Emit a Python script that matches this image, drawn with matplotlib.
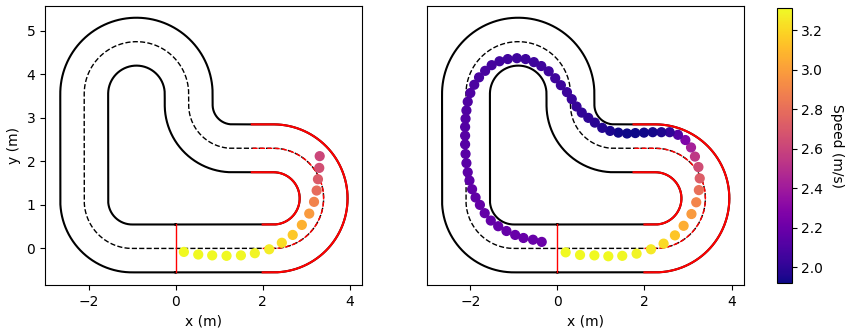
import numpy as np
import matplotlib
matplotlib.use("Agg")
import matplotlib.pyplot as plt
from matplotlib.colors import Normalize

# track centreline, built from straights and arcs (start at origin heading east)
# ("s", length) or ("a", radius, degrees, +1 left / -1 right)
TRACK = [("s", 2.25), ("a", 1.15, 180, 1), ("s", 0.95), ("a", 1.0, 90, -1),
         ("s", 0.25), ("a", 1.2, 180, 1), ("s", 2.45), ("a", 1.1, 90, 1), ("s", 1.0)]
HALF_WIDTH = 0.55
RED_FROM, RED_TO = 2.0, 2.25 + np.pi * 1.15 + 0.5   # arc length of highlighted section

# left panel: short run
left_x = [0.19, 0.52, 0.84, 1.17, 1.50, 1.82, 2.15, 2.44, 2.69, 2.90, 3.07, 3.18, 3.24, 3.27, 3.30, 3.31]
left_y = [-0.08, -0.14, -0.16, -0.17, -0.16, -0.11, -0.02, 0.13, 0.31, 0.54, 0.80, 1.07, 1.33, 1.59, 1.85, 2.12]
left_v = [3.31, 3.31, 3.31, 3.31, 3.30, 3.29, 3.27, 3.22, 3.15, 3.07, 2.98, 2.89, 2.79, 2.71, 2.65, 2.61]

# right panel: nearly a full lap
right_x = [0.19, 0.52, 0.85, 1.17, 1.49, 1.82, 2.15, 2.44, 2.70, 2.90, 3.08, 3.19, 3.25, 3.27, 3.24,
           3.16, 3.07, 2.94, 2.77, 2.58, 2.39, 2.19, 1.99, 1.79, 1.60, 1.40, 1.21, 1.03, 0.86, 0.71,
           0.56, 0.44, 0.33, 0.22, 0.08, -0.05, -0.20, -0.37, -0.54, -0.73, -0.93, -1.14, -1.33, -1.51,
           -1.66, -1.80, -1.91, -2.00, -2.06, -2.09, -2.11, -2.12, -2.12, -2.12, -2.11, -2.09, -2.06,
           -2.02, -1.96, -1.88, -1.78, -1.67, -1.53, -1.36, -1.17, -0.97, -0.78, -0.56, -0.36]
right_y = [-0.09, -0.15, -0.16, -0.18, -0.17, -0.12, -0.02, 0.11, 0.30, 0.52, 0.79, 1.06, 1.34, 1.61, 1.87,
           2.11, 2.32, 2.49, 2.61, 2.67, 2.67, 2.67, 2.66, 2.65, 2.64, 2.66, 2.70, 2.77, 2.89, 3.00,
           3.12, 3.26, 3.43, 3.59, 3.75, 3.91, 4.07, 4.19, 4.28, 4.35, 4.37, 4.35, 4.30, 4.21,
           4.08, 3.93, 3.76, 3.57, 3.37, 3.17, 2.98, 2.79, 2.59, 2.39, 2.17, 1.96, 1.75,
           1.56, 1.36, 1.17, 1.00, 0.81, 0.64, 0.51, 0.40, 0.31, 0.24, 0.20, 0.15]
right_v = [3.31, 3.31, 3.31, 3.31, 3.30, 3.29, 3.26, 3.21, 3.14, 3.06, 2.98, 2.90, 2.81, 2.72, 2.64,
           2.54, 2.42, 2.27, 2.12, 2.01, 1.96, 1.94, 1.93, 1.92, 1.92, 1.93, 1.95, 1.97, 1.99, 2.00,
           2.01, 2.02, 2.03, 2.04, 2.04, 2.05, 2.05, 2.05, 2.05, 2.05, 2.05, 2.06, 2.06, 2.07,
           2.08, 2.08, 2.09, 2.10, 2.11, 2.11, 2.12, 2.12, 2.13, 2.13, 2.14, 2.14, 2.15,
           2.15, 2.16, 2.16, 2.17, 2.17, 2.18, 2.18, 2.18, 2.19, 2.19, 2.19, 2.20]


def build_track(segments, step=0.01):
    x, y, h = 0.0, 0.0, 0.0
    pts, heads = [(x, y)], [h]
    for seg in segments:
        if seg[0] == "s":
            n = max(2, int(seg[1] / step))
            for _ in range(n):
                x += seg[1] / n * np.cos(h)
                y += seg[1] / n * np.sin(h)
                pts.append((x, y)); heads.append(h)
        else:
            r, deg, d = seg[1], seg[2], seg[3]
            ang = np.radians(deg)
            n = max(2, int(r * ang / step))
            cx, cy = x - d * r * np.sin(h), y + d * r * np.cos(h)
            for k in range(1, n + 1):
                hk = h + d * ang * k / n
                pts.append((cx + d * r * np.sin(hk), cy - d * r * np.cos(hk))); heads.append(hk)
            h += d * ang
            x, y = pts[-1]
    pts = np.array(pts)
    heads = np.array(heads)
    s = np.concatenate([[0], np.cumsum(np.hypot(*np.diff(pts, axis=0).T))])
    return pts, heads, s


def draw_track(ax, pts, heads, s):
    nx, ny = -np.sin(heads), np.cos(heads)
    red = (s >= RED_FROM) & (s <= RED_TO)
    for off, ls, lw in [(HALF_WIDTH, "-", 1.5), (-HALF_WIDTH, "-", 1.5), (0.0, "--", 1.0)]:
        lx = pts[:, 0] + off * nx
        ly = pts[:, 1] + off * ny
        ax.plot(lx, ly, color="black", ls=ls, lw=lw, zorder=1)
        ax.plot(lx[red], ly[red], color="red", ls=ls, lw=lw, zorder=2)
    ax.plot([0, 0], [-HALF_WIDTH, HALF_WIDTH], color="red", lw=1.0, zorder=2)


pts, heads, s = build_track(TRACK)
norm = Normalize(vmin=min(left_v + right_v), vmax=max(left_v + right_v))

fig = plt.figure(figsize=(8.48, 3.32), dpi=100)
ax1 = fig.add_axes([0.0522, 0.1416, 0.3755, 0.8404])
ax2 = fig.add_axes([0.5024, 0.1416, 0.3755, 0.8404])
cax = fig.add_axes([0.9166, 0.1467, 0.0170, 0.8283])

for ax, xs, ys, vs in [(ax1, left_x, left_y, left_v), (ax2, right_x, right_y, right_v)]:
    draw_track(ax, pts, heads, s)
    sc = ax.scatter(xs, ys, c=vs, cmap="plasma", norm=norm, s=40, zorder=3)
    ax.set_xlim(-3.0, 4.28)
    ax.set_ylim(-0.84, 5.57)
    ax.set_aspect("equal")
    ax.set_xlabel("x (m)")

ax1.set_ylabel("y (m)")
ax2.set_yticks([])

cb = fig.colorbar(sc, cax=cax)
cb.set_label("Speed (m/s)", rotation=270, labelpad=15)

fig.savefig("out.png", dpi=100)
